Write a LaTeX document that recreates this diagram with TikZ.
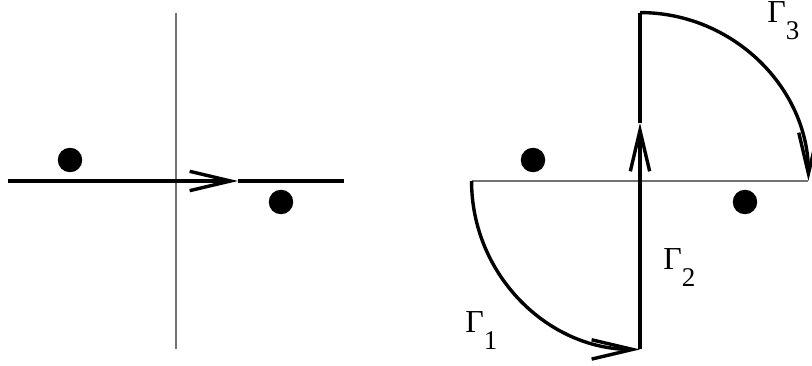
\documentclass[tikz,border=0pt]{standalone}
\usepackage{fontspec}
\setmainfont{Liberation Serif}
\usetikzlibrary{arrows.meta}

\tikzset{
  axis/.style={black!55, line width=0.8pt},
  contour/.style={line width=1.7pt},
  barb/.style={-{Straight Barb[length=0.72cm, width=0.34cm]}},
  pole/.style={fill, circle, inner sep=0pt, minimum size=0.43cm},
  glabel/.style={anchor=base west, inner sep=0pt, text height=0.68em,
    font=\fontsize{16}{16}\selectfont}
}
\newcommand{\gsub}[1]{Γ\raisebox{-8.5pt}{\fontsize{13.5}{13.5}\selectfont #1}}

\begin{document}
\begin{tikzpicture}
  \useasboundingbox (-3.093,-3.251) rectangle (11.177,3.181);
  % left: straight contour
  \coordinate (lN) at (0,2.96);
  \coordinate (lS) at (0,-2.96);
  \coordinate (lW) at (-2.96,0);
  \coordinate (lE) at (2.96,0);
  \coordinate (lA) at (1.09,0);
  \draw[axis] (lN) -- (lS);
  \draw[contour, barb] (lW) -- (lA);
  \draw[contour] (lA) -- (lE);
  \node[pole] (lp1) at (-1.863,0.369) {};
  \node[pole] (lp2) at (1.845,-0.369) {};
  % right: closed contour
  \coordinate (rN) at (8.154,2.96);
  \coordinate (rS) at (8.154,-2.96);
  \coordinate (rW) at (5.194,0);
  \coordinate (rE) at (11.114,0);
  \coordinate (rA) at (8.154,1.02);
  \draw[axis] (rW) -- (rE);
  \draw[contour, barb] (rW) arc[start angle=180, end angle=270, radius=2.96];
  \draw[contour, barb] (rS) -- (rA);
  \draw[contour] (rA) -- (rN);
  \draw[contour, barb] (rN) arc[start angle=90, end angle=0, radius=2.96];
  \node[pole] (rp1) at (6.274,0.369) {};
  \node[pole] (rp2) at (9.999,-0.369) {};
  \node[glabel] (g1) at (5.079,-2.671) {\gsub{1}};
  \node[glabel] (g2) at (8.558,-1.564) {\gsub{2}};
  \node[glabel] (g3) at (10.386,2.777) {\gsub{3}};
\end{tikzpicture}
\end{document}
